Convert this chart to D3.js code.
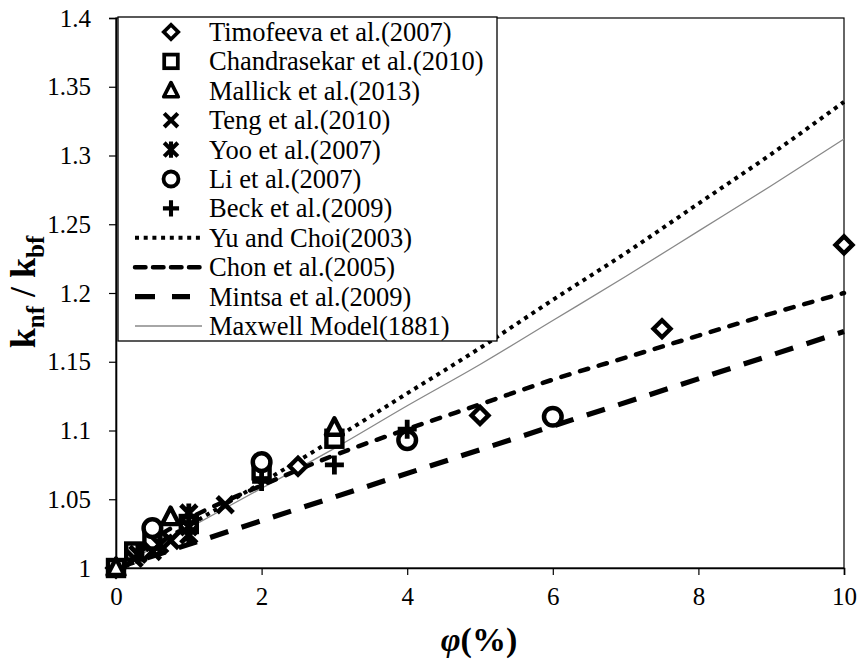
<!DOCTYPE html>
<html>
<head>
<meta charset="utf-8">
<script src="https://cdn.jsdelivr.net/npm/d3@7"></script>
<style>
  body { margin: 0; background: #fff; }
  svg, svg text { font-family: 'Liberation Serif', 'Tinos', 'Times New Roman', Times, 'DejaVu Serif', serif; }
</style>
</head>
<body>
<svg width="861" height="664"></svg>
<script>
// measured data (phi in %, ratio knf/kbf)
const timofeeva = [[0, 1.0], [2.5, 1.074], [5, 1.111], [7.5, 1.174], [10, 1.235]];
const chandrasekar = [[0, 1.0], [0.25, 1.012], [0.5, 1.02], [1, 1.032], [2, 1.071], [3, 1.094]];
const mallick = [[0, 1.0], [0.75, 1.037], [3, 1.102]];
const teng = [[0.25, 1.007], [0.5, 1.012], [0.75, 1.02], [1, 1.03], [1.5, 1.046]];
const yoo = [[0.3, 1.01], [0.6, 1.017], [1, 1.04], [1, 1.024]];
const li = [[0.5, 1.029], [2, 1.077], [4, 1.093], [6, 1.11]];
const beck = [[1, 1.033], [2, 1.063], [3, 1.075], [4, 1.101]];

// model curves
const yuChoi = [[0, 1.0], [1, 1.031], [2, 1.062], [3, 1.094], [4, 1.127], [5, 1.16], [6, 1.195], [7, 1.229], [8, 1.265], [9, 1.301], [10, 1.339]];
const chon = [[0, 1.0], [0.25, 1.013], [0.5, 1.021], [1, 1.036], [2, 1.06], [3, 1.082], [4, 1.101], [5, 1.119], [6, 1.137], [7, 1.153], [8, 1.169], [9, 1.185], [10, 1.2]];
const mintsa = [[0, 1.0], [10, 1.172]];
const maxwell = [[0, 1.0], [1, 1.029], [2, 1.058], [3, 1.087], [4, 1.118], [5, 1.148], [6, 1.18], [7, 1.212], [8, 1.245], [9, 1.278], [10, 1.312]];

const xTicks = [0, 2, 4, 6, 8, 10];
const yTicks = [1, 1.05, 1.1, 1.15, 1.2, 1.25, 1.3, 1.35, 1.4];

const legendItems = [
  {name: "Timofeeva et al.(2007)", mark: "diamond"},
  {name: "Chandrasekar et al.(2010)", mark: "square"},
  {name: "Mallick et al.(2013)", mark: "triangle"},
  {name: "Teng et al.(2010)", mark: "cross"},
  {name: "Yoo et al.(2007)", mark: "star"},
  {name: "Li et al.(2007)", mark: "circle"},
  {name: "Beck et al.(2009)", mark: "plus"},
  {name: "Yu and Choi(2003)", line: "dot"},
  {name: "Chon et al.(2005)", line: "dash"},
  {name: "Mintsa et al.(2009)", line: "longdash"},
  {name: "Maxwell Model(1881)", line: "thin"}
];

const FONT = "'Liberation Serif', 'Tinos', 'Times New Roman', Times, 'DejaVu Serif', serif";
const svg = d3.select("svg");
const x = d3.scaleLinear().domain([0, 10]).range([116, 844]);
const y = d3.scaleLinear().domain([1, 1.4]).range([568, 18]);

// frame
svg.append("rect")
  .attr("x", x(0)).attr("y", y(1.4))
  .attr("width", x(10) - x(0)).attr("height", y(1) - y(1.4))
  .attr("fill", "none").attr("stroke", "#000").attr("stroke-width", 1.2);

const xAxis = svg.append("g")
  .attr("transform", `translate(0,${y(1)})`)
  .call(d3.axisBottom(x).tickValues(xTicks).tickSize(7).tickFormat(d3.format("d")));
const yAxis = svg.append("g")
  .attr("transform", `translate(${x(0)},0)`)
  .call(d3.axisLeft(y).tickValues(yTicks).tickSize(7).tickFormat(d => String(+d.toFixed(2))));
[xAxis, yAxis].forEach(a => {
  a.attr("font-family", FONT);
  a.select(".domain").attr("stroke-width", 1.6);
  a.selectAll(".tick line").attr("stroke-width", 1.2);
  a.selectAll("text").attr("font-size", 25).attr("fill", "#000");
});
xAxis.selectAll("text").attr("y", 19).attr("dy", "0.71em");
yAxis.selectAll("text").attr("x", -25);

// axis titles
svg.append("text")
  .attr("transform", "translate(35,292) rotate(-90)")
  .attr("text-anchor", "middle")
  .attr("font-family", FONT)
  .attr("font-size", 36).attr("font-weight", "bold")
  .html('k<tspan dy="9" font-size="25">nf</tspan><tspan dy="-9"> / k</tspan><tspan dy="9" font-size="25">bf</tspan>');
svg.append("text")
  .attr("x", 479).attr("y", 651)
  .attr("text-anchor", "middle")
  .attr("font-family", FONT)
  .attr("font-size", 34).attr("font-weight", "bold")
  .html('<tspan font-style="italic">φ</tspan>(%)');

// line styles
const lineStyles = {
  dot: {stroke: "#000", width: 4, dash: "4,4.7", cap: "butt"},
  dash: {stroke: "#000", width: 4.5, dash: "8.5,11", cap: "round"},
  longdash: {stroke: "#000", width: 5.2, dash: "19,14", cap: "butt"},
  thin: {stroke: "#888", width: 1.3, dash: null, cap: "butt"}
};
const line = d3.line().x(d => x(d[0])).y(d => y(d[1])).curve(d3.curveMonotoneX);
const curves = [[maxwell, "thin"], [yuChoi, "dot"], [chon, "dash"], [mintsa, "longdash"]];
curves.forEach(([data, st]) => {
  const s = lineStyles[st];
  svg.append("path").datum(data)
    .attr("d", line)
    .attr("fill", "none")
    .attr("stroke", s.stroke)
    .attr("stroke-width", s.width)
    .attr("stroke-dasharray", s.dash)
    .attr("stroke-linecap", s.cap);
});

// marker drawing
function drawMark(g, type, cx, cy) {
  const k = g.append("g").attr("transform", `translate(${cx},${cy})`);
  if (type === "diamond") {
    k.append("path").attr("d", "M0,-8.5L8.5,0L0,8.5L-8.5,0Z")
      .attr("fill", "#fff").attr("stroke", "#000").attr("stroke-width", 4.4).attr("stroke-linejoin", "miter");
  } else if (type === "square") {
    k.append("rect").attr("x", -8).attr("y", -8).attr("width", 16).attr("height", 16)
      .attr("fill", "#fff").attr("stroke", "#000").attr("stroke-width", 4.4);
  } else if (type === "triangle") {
    k.append("path").attr("d", "M0,-9.5L8.5,7L-8.5,7Z")
      .attr("fill", "#fff").attr("stroke", "#000").attr("stroke-width", 4.4).attr("stroke-linejoin", "round");
  } else if (type === "circle") {
    k.append("circle").attr("r", 8.8)
      .attr("fill", "#fff").attr("stroke", "#000").attr("stroke-width", 4.5);
  } else if (type === "cross") {
    k.append("path").attr("d", "M-8,-8L8,8M8,-8L-8,8")
      .attr("stroke", "#000").attr("stroke-width", 4.8).attr("fill", "none");
  } else if (type === "star") {
    k.append("path").attr("d", "M-8,-8L8,8M8,-8L-8,8M0,-9.5L0,9.5")
      .attr("stroke", "#000").attr("stroke-width", 4.8).attr("fill", "none");
  } else if (type === "plus") {
    k.append("path").attr("d", "M-9.5,0L9.5,0M0,-9.5L0,9.5")
      .attr("stroke", "#000").attr("stroke-width", 4.8).attr("fill", "none");
  }
}

const series = [
  [timofeeva, "diamond"], [chandrasekar, "square"], [mallick, "triangle"],
  [teng, "cross"], [yoo, "star"], [li, "circle"], [beck, "plus"]
];
const marks = svg.append("g");
series.forEach(([data, type]) => {
  data.forEach(d => drawMark(marks, type, x(d[0]), y(d[1])));
});

// legend
const leg = svg.append("g");
leg.append("rect")
  .attr("x", 118).attr("y", 17).attr("width", 379).attr("height", 324)
  .attr("fill", "#fff").attr("stroke", "#000").attr("stroke-width", 1.3);
const legLine = {
  dot: {x1: 135, x2: 201, dash: "4,4.7"},
  dash: {x1: 135, x2: 201, dash: "10.5,7.5"},
  longdash: {x1: 135, x2: 190, dash: "20,17"},
  thin: {x1: 135, x2: 202, dash: null}
};
legendItems.forEach((it, i) => {
  const cy = 32 + i * 29.4;
  if (it.mark) {
    const m = leg.append("g").attr("transform", `translate(171,${cy}) scale(0.85)`);
    drawMark(m, it.mark, 0, 0);
  }
  if (it.line) {
    const s = lineStyles[it.line], L = legLine[it.line];
    leg.append("line")
      .attr("x1", L.x1).attr("x2", L.x2)
      .attr("y1", cy).attr("y2", cy)
      .attr("stroke", s.stroke).attr("stroke-width", s.width)
      .attr("stroke-dasharray", L.dash)
      .attr("stroke-linecap", s.cap);
  }
  leg.append("text")
    .attr("x", 209).attr("y", cy + 9)
    .attr("font-family", FONT)
    .attr("font-size", 26.5)
    .text(it.name);
});
</script>
</body>
</html>
